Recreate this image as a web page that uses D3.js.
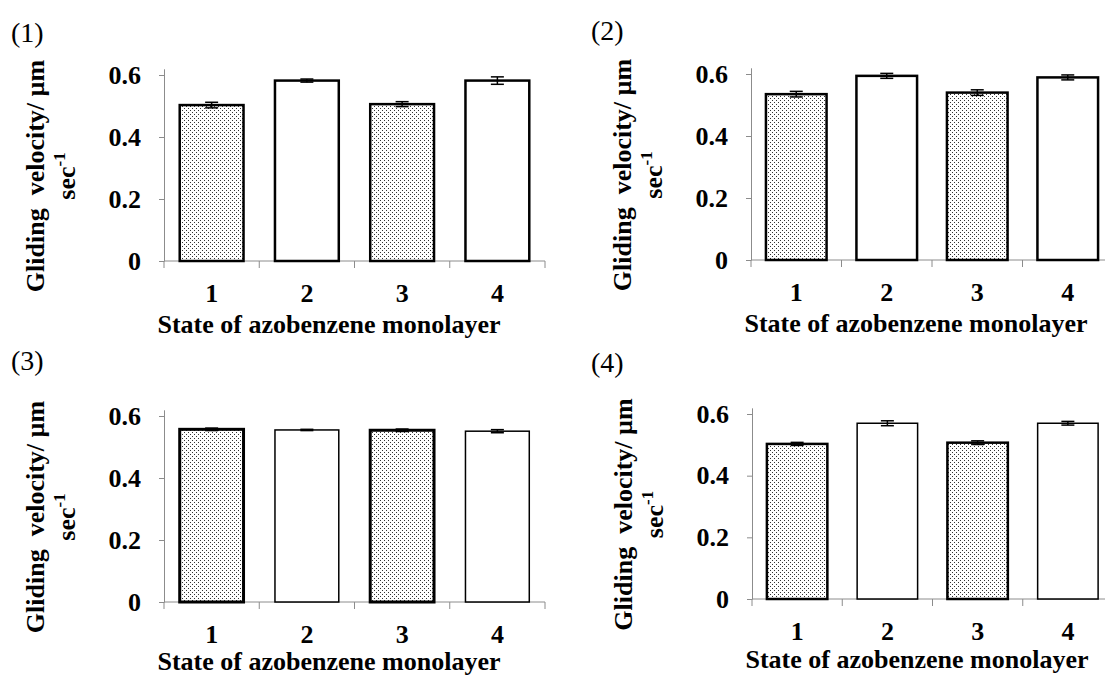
<!DOCTYPE html>
<html>
<head>
<meta charset="utf-8">
<script src="https://cdn.jsdelivr.net/npm/d3@7.9.0/dist/d3.min.js"></script>
<style>
  body { margin: 0; background: #fff; }
  svg { display: block; }
  text { font-family: "Liberation Serif", "Times New Roman", serif; fill: #000; }
</style>
</head>
<body>
<svg id="chart" width="1105" height="675"></svg>
<script>
// data
const states = ["1", "2", "3", "4"];
const panelNames = ["(1)", "(2)", "(3)", "(4)"];

const speed1 = [0.503, 0.582, 0.506, 0.582];
const err1   = [0.009, 0.005, 0.008, 0.012];
const speed2 = [0.535, 0.594, 0.540, 0.589];
const err2   = [0.009, 0.008, 0.009, 0.008];
const speed3 = [0.557, 0.555, 0.554, 0.551];
const err3   = [0.004, 0.002, 0.004, 0.005];
const speed4 = [0.503, 0.570, 0.507, 0.570];
const err4   = [0.005, 0.008, 0.006, 0.006];

const yTicks = [0, 0.2, 0.4, 0.6];
const xTitle = "State of azobenzene monolayer";
const yTitle = "Gliding  velocity/ µm";
const yTitleUnit = "sec";
const yTitleSup = "-1";

const series = [
  { speed: speed1, err: err1 },
  { speed: speed2, err: err2 },
  { speed: speed3, err: err3 },
  { speed: speed4, err: err4 }
];

// panel placement (axis corner, zero line, 0.6 line, label spot, title drop, bar outlines)
const layout = [
  { x0: 164, x1: 545,  y0: 261, y6: 75,  lx: 11,  ly: 42,  td: 72, lw: [2.5, 2.5, 2.5, 2.5] },
  { x0: 751, x1: 1113, y0: 260, y6: 74,  lx: 591, ly: 40,  td: 72, lw: [2.5, 2.5, 2.5, 2.5] },
  { x0: 164, x1: 545,  y0: 602, y6: 416, lx: 11,  ly: 370, td: 68, lw: [3, 1.5, 3, 1.5] },
  { x0: 752, x1: 1113, y0: 599, y6: 414, lx: 591, ly: 372, td: 69, lw: [2.5, 1.5, 2.5, 1.5] }
];

const svg = d3.select("#chart");

// stipple fill
const pat = svg.append("defs").append("pattern")
  .attr("id", "dots")
  .attr("width", 4).attr("height", 4)
  .attr("patternUnits", "userSpaceOnUse");
pat.append("rect").attr("width", 4).attr("height", 4).attr("fill", "#fff");
pat.append("rect").attr("x", 0).attr("y", 0).attr("width", 1).attr("height", 1).attr("fill", "#333");
pat.append("rect").attr("x", 2).attr("y", 2).attr("width", 1).attr("height", 1).attr("fill", "#333");

const axisColor = "#8c8c8c";
const serif = "Liberation Serif, Times New Roman, serif";

series.forEach((s, p) => {
  const L = layout[p];
  const g = svg.append("g");

  const x = d3.scaleBand()
    .domain(states)
    .range([L.x0, L.x1])
    .paddingInner(0.33)
    .paddingOuter(0.165);

  const yMax = 0.62;
  const y = d3.scaleLinear()
    .domain([0, yMax])
    .range([L.y0, L.y0 - (L.y0 - L.y6) * yMax / 0.6]);

  // y axis
  const yAxis = g.append("g")
    .attr("transform", `translate(${L.x0},0)`)
    .call(d3.axisLeft(y).tickValues(yTicks).tickSize(5).tickSizeOuter(0).tickPadding(18)
      .tickFormat(d => d === 0 ? "0" : d3.format(".1f")(d)));
  yAxis.select(".domain").attr("stroke", axisColor);
  yAxis.selectAll(".tick line").attr("stroke", axisColor);
  yAxis.selectAll(".tick text")
    .attr("font-size", 26).attr("font-weight", "bold")
    .attr("font-family", serif);

  // x axis: line with ticks on category boundaries
  g.append("line")
    .attr("x1", L.x0).attr("x2", L.x1)
    .attr("y1", L.y0).attr("y2", L.y0)
    .attr("stroke", axisColor);
  const bounds = d3.range(states.length + 1).map(i => L.x0 + i * x.step());
  g.selectAll(".xtick").data(bounds).join("line")
    .attr("x1", d => d).attr("x2", d => d)
    .attr("y1", L.y0).attr("y2", L.y0 + 7)
    .attr("stroke", axisColor);

  g.selectAll(".xlab").data(states).join("text")
    .attr("x", d => x(d) + x.bandwidth() / 2)
    .attr("y", L.y0 + 41)
    .attr("text-anchor", "middle")
    .attr("font-size", 26).attr("font-weight", "bold")
    .text(d => d);

  // bars
  g.selectAll(".bar").data(s.speed).join("rect")
    .attr("x", (d, i) => x(states[i]))
    .attr("y", d => y(d))
    .attr("width", x.bandwidth())
    .attr("height", d => L.y0 - y(d))
    .attr("fill", (d, i) => i % 2 === 0 ? "url(#dots)" : "#fff")
    .attr("stroke", "#000")
    .attr("stroke-width", (d, i) => L.lw[i]);

  // error bars
  const cap = 6.5;
  s.speed.forEach((v, i) => {
    const cx = x(states[i]) + x.bandwidth() / 2;
    const lo = y(v - s.err[i]), hi = y(v + s.err[i]);
    g.append("line").attr("x1", cx).attr("x2", cx).attr("y1", lo).attr("y2", hi)
      .attr("stroke", "#000").attr("stroke-width", 1.5);
    [lo, hi].forEach(yy => {
      g.append("line").attr("x1", cx - cap).attr("x2", cx + cap).attr("y1", yy).attr("y2", yy)
        .attr("stroke", "#000").attr("stroke-width", 1.5);
    });
  });

  // titles
  g.append("text")
    .attr("x", L.x0 + 165)
    .attr("y", L.y0 + L.td)
    .attr("text-anchor", "middle")
    .attr("font-size", 26).attr("font-weight", "bold")
    .text(xTitle);

  const cy = (L.y0 + L.y6) / 2 + 8;
  const yt = g.append("g").attr("transform", `translate(${L.x0 - 120},${cy}) rotate(-90)`);
  yt.append("text")
    .attr("text-anchor", "middle")
    .attr("font-size", 26).attr("font-weight", "bold")
    .style("white-space", "pre")
    .text(yTitle);
  const t2 = yt.append("text")
    .attr("y", 31)
    .attr("text-anchor", "middle")
    .attr("font-size", 26).attr("font-weight", "bold");
  t2.append("tspan").text(yTitleUnit);
  t2.append("tspan").attr("dy", -10).attr("font-size", 17).text(yTitleSup);

  // panel label
  svg.append("text")
    .attr("x", L.lx).attr("y", L.ly)
    .attr("font-size", 28)
    .text(panelNames[p]);
});
</script>
</body>
</html>
